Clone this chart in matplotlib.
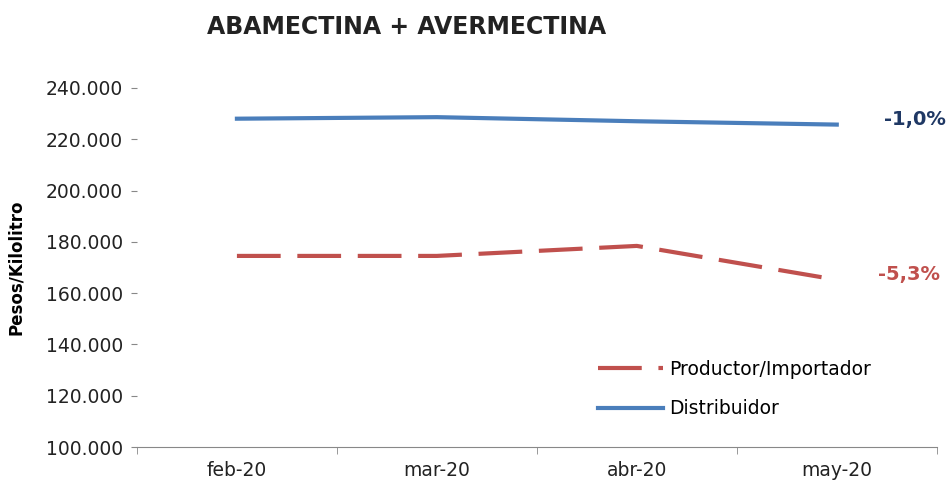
import numpy as np
import matplotlib.pyplot as plt
from matplotlib.ticker import FuncFormatter

plt.rcParams['font.family'] = ['DejaVu Sans']

months = ['feb-20', 'mar-20', 'abr-20', 'may-20']
productor = [174500, 174500, 178400, 165200]
distribuidor = [228000, 228600, 227000, 225700]
var_productor = '-5,3%'
var_distribuidor = '-1,0%'

RED = '#c0504d'
BLUE = '#4a7ebb'
NAVY = '#1f3864'

fig = plt.figure(figsize=(9.51, 4.82), dpi=100)
ax = fig.add_axes([0.144, 0.0726, 0.841, 0.745])

x = np.arange(len(months))
ax.plot(x, productor, color=RED, lw=3, dashes=(10.5, 4), label='Productor/Importador')
ax.plot(x, distribuidor, color=BLUE, lw=3, label='Distribuidor')

ax.set_xlim(-0.5, len(months) - 0.5)
ax.set_ylim(100000, 240000)
ax.set_yticks(np.arange(100000, 240001, 20000))
ax.yaxis.set_major_formatter(FuncFormatter(lambda v, p: f"{int(v):,}".replace(',', '.')))

ax.set_xticks(x)
ax.set_xticklabels(months)
ax.set_xticks(np.arange(-0.5, len(months)), minor=True)
ax.tick_params(axis='x', which='major', length=0, pad=10, labelsize=13.5, colors='#222222')
ax.tick_params(axis='x', which='minor', length=5, color='#888888')
ax.tick_params(axis='y', length=4, color='#888888', labelsize=13.5, labelcolor='#222222', pad=6)

for s in ['top', 'right', 'left']:
    ax.spines[s].set_visible(False)
ax.spines['bottom'].set_color('#888888')

ax.set_ylabel('Pesos/Kilolitro', fontsize=12, fontweight='bold')
ax.yaxis.set_label_coords(-0.14, 0.5)

ax.annotate(var_distribuidor, xy=(x[-1], distribuidor[-1]), xytext=(34, 4),
            textcoords='offset points', color=NAVY, fontsize=14, fontweight='bold',
            ha='left', va='center')
ax.annotate(var_productor, xy=(x[-1], productor[-1]), xytext=(30, 4),
            textcoords='offset points', color=RED, fontsize=14, fontweight='bold',
            ha='left', va='center')

ax.legend(loc='upper left', bbox_to_anchor=(0.555, 0.29), frameon=False, fontsize=13.5,
          handlelength=3.5, labelspacing=1.1, handletextpad=0.3)

fig.suptitle('ABAMECTINA + AVERMECTINA', x=0.427, y=0.968, fontsize=17, fontweight='bold',
             color='#222222')

fig.savefig('out.png', dpi=100)
